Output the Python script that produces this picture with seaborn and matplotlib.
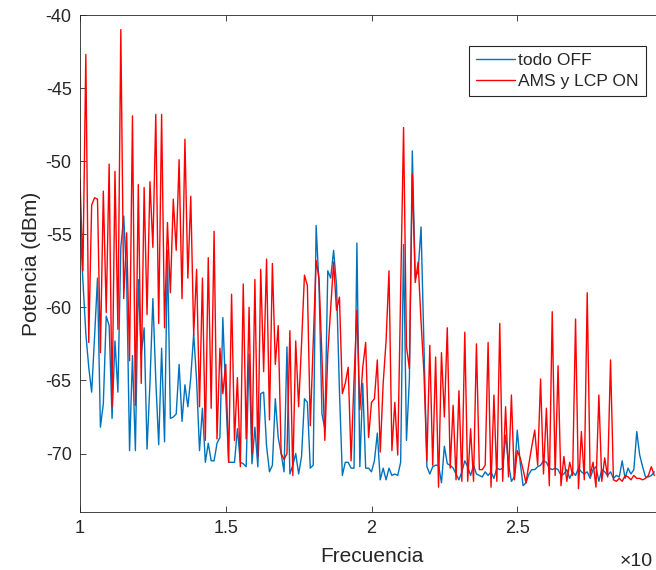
"""Espectro de potencia: todo OFF vs AMS y LCP ON"""
import numpy as np
import pandas as pd
import matplotlib
matplotlib.use("Agg")
import matplotlib.pyplot as plt
import seaborn as sns
from matplotlib.ticker import FuncFormatter

# potencia (dBm), un punto cada 0.01 de frecuencia desde 1
potencia_off = [
    -54.1, -58.2, -61.8, -64.1, -65.8, -62.0, -58.0, -68.2, -66.6, -60.6,
    -61.25, -67.6, -62.3, -65.8, -55.9, -53.75, -58.0, -69.8, -63.3, -69.8,
    -58.1, -63.2, -61.4, -69.7, -65.2, -59.4, -65.0, -69.4, -62.8, -69.2,
    -56.1, -67.6, -67.5, -67.3, -63.9, -67.8, -65.3, -66.8, -64.8, -61.8,
    -65.0, -69.8, -66.9, -70.6, -69.3, -70.5, -70.5, -69.3, -68.9, -60.7,
    -66.0, -70.6, -70.6, -70.6, -68.3, -70.6, -70.7, -70.9, -63.2, -70.7,
    -68.2, -70.9, -65.9, -65.8, -69.5, -71.25, -70.8, -66.25, -68.9, -70.0,
    -71.25, -62.7, -71.4, -70.8, -70.0, -71.4, -70.2, -66.25, -66.5, -71.0,
    -70.8, -54.4, -58.5, -67.3, -68.3, -57.5, -58.0, -56.1, -58.5, -65.7,
    -71.5, -70.6, -70.6, -71.0, -71.0, -55.6, -70.9, -65.2, -71.0, -71.0,
    -71.25, -70.5, -68.6, -71.8, -71.0, -71.8, -71.0, -71.5, -71.4, -71.5,
    -70.6, -55.7, -69.1, -64.9, -49.3, -58.0, -57.5, -54.5, -62.7, -70.9,
    -71.4, -70.9, -70.8, -70.8, -72.0, -69.5, -70.7, -70.8, -71.0, -71.4,
    -71.8, -71.25, -70.5, -70.9, -71.5, -70.8, -71.4, -71.5, -71.6, -71.25,
    -71.5, -71.25, -71.7, -71.0, -71.1, -71.0, -68.75, -70.7, -71.9, -71.6,
    -68.4, -70.6, -72.2, -72.0, -71.4, -71.1, -71.1, -70.9, -70.8, -70.5,
    -70.6, -71.0, -71.1, -71.0, -71.1, -71.5, -71.4, -71.1, -71.7, -71.25,
    -71.5, -71.0, -71.25, -71.4, -71.25, -71.7, -71.1, -70.9, -71.9, -71.1,
    -71.25, -71.5, -71.25, -71.7, -71.5, -71.6, -70.5, -71.7, -71.0, -71.4,
    -71.1, -68.5, -70.1, -70.9, -71.6, -71.6, -71.5, -71.25,
]

potencia_on = [
    -51.25, -57.5, -42.7, -62.4, -53.0, -52.5, -52.6, -63.1, -52.05, -60.35,
    -50.2, -66.8, -50.7, -61.5, -41.0, -59.4, -54.9, -63.65, -46.9, -66.7,
    -51.6, -65.2, -51.8, -60.5, -51.4, -55.9, -46.8, -61.1, -46.8, -61.4,
    -54.2, -59.0, -52.6, -56.1, -49.9, -59.4, -48.5, -58.0, -52.4, -61.9,
    -57.4, -66.8, -58.0, -69.1, -56.6, -66.9, -54.8, -69.0, -62.8, -65.9,
    -63.9, -70.6, -59.1, -69.1, -64.8, -70.9, -58.4, -69.0, -60.0, -70.0,
    -58.1, -70.2, -57.4, -64.4, -56.7, -67.7, -57.0, -63.9, -61.25, -70.0,
    -70.4, -70.0, -61.6, -71.5, -62.3, -66.8, -62.5, -57.8, -58.5, -68.1,
    -62.5, -56.8, -58.0, -63.4, -69.1, -63.2, -60.0, -56.9, -60.2, -59.3,
    -65.9, -65.2, -64.1, -70.5, -65.0, -60.2, -67.0, -64.1, -62.4, -68.9,
    -66.5, -66.25, -63.6, -69.9, -65.2, -62.3, -57.5, -69.8, -66.5, -70.1,
    -59.0, -47.7, -62.7, -64.2, -50.9, -58.3, -56.9, -61.0, -64.5, -70.5,
    -62.6, -70.8, -63.4, -72.3, -63.1, -67.5, -61.4, -71.0, -66.7, -71.8,
    -65.7, -71.9, -61.7, -71.9, -68.3, -71.9, -62.5, -71.1, -71.1, -70.8,
    -62.4, -72.3, -66.0, -71.9, -61.1, -71.9, -66.8, -71.6, -66.0, -71.8,
    -69.8, -70.3, -71.1, -72.0, -70.7, -69.5, -68.4, -70.8, -64.9, -71.4,
    -66.9, -72.2, -60.3, -71.5, -64.0, -72.2, -70.2, -71.9, -70.6, -71.5,
    -60.8, -72.4, -68.5, -71.8, -59.0, -71.5, -70.6, -72.3, -66.0, -71.9,
    -70.3, -71.6, -63.6, -71.8, -71.9, -71.7, -71.9, -71.5, -71.6, -71.8,
    -71.5, -71.7, -71.7, -71.8, -71.7, -71.5, -70.9, -71.5,
]

freq_inicio = 1.0
freq_paso = 0.01
frecuencia = freq_inicio + freq_paso * np.arange(len(potencia_off))

x_ticks = [1, 1.5, 2, 2.5]
y_ticks = [-70, -65, -60, -55, -50, -45, -40]

sns.set_theme(style="ticks")
plt.rcParams["font.family"] = ["Liberation Sans", "DejaVu Sans"]
plt.rcParams["axes.unicode_minus"] = False

gris = "#262626"
df = pd.DataFrame({"Frecuencia": frecuencia, "off": potencia_off, "on": potencia_on})

fig = plt.figure(figsize=(6.56, 5.70), dpi=100)
ax = fig.add_axes([80 / 656, 58 / 570, 583 / 656, 497 / 570])

sns.lineplot(data=df, x="Frecuencia", y="off", color="#0072BD", linewidth=1.0,
             estimator=None, label="todo OFF", ax=ax)
sns.lineplot(data=df, x="Frecuencia", y="on", color="#FF0000", linewidth=1.0,
             estimator=None, label="AMS y LCP ON", ax=ax)

ax.set_xlim(1, 3)
ax.set_ylim(-74, -40)
ax.set_xticks(x_ticks)
ax.set_yticks(y_ticks)
ax.xaxis.set_major_formatter(FuncFormatter(lambda v, p: f"{v:g}"))
ax.yaxis.set_major_formatter(FuncFormatter(lambda v, p: f"{v:g}"))
ax.tick_params(direction="in", length=4, width=0.6, top=True, right=True,
               labelsize=13, colors=gris, pad=6)
for s in ax.spines.values():
    s.set_color(gris)
    s.set_linewidth(0.6)

ax.set_xlabel("Frecuencia", fontsize=15, color=gris, labelpad=7)
ax.set_ylabel("Potencia (dBm)", fontsize=15, color=gris, labelpad=3)

leg = ax.legend(loc="upper left", bbox_to_anchor=(469 / 656, 1 - 46 / 570),
                bbox_transform=fig.transFigure, frameon=True, fancybox=False,
                edgecolor=gris, framealpha=1, fontsize=12.6, handlelength=2.2,
                handletextpad=0.2, borderpad=0.4, labelspacing=0.3, borderaxespad=0)
leg.get_frame().set_linewidth(0.8)

fig.text(620 / 656, 1 - 562 / 570, "\u00d710", fontsize=14, color=gris,
         ha="left", va="center")

fig.savefig("out.png", dpi=100)
plt.close()
